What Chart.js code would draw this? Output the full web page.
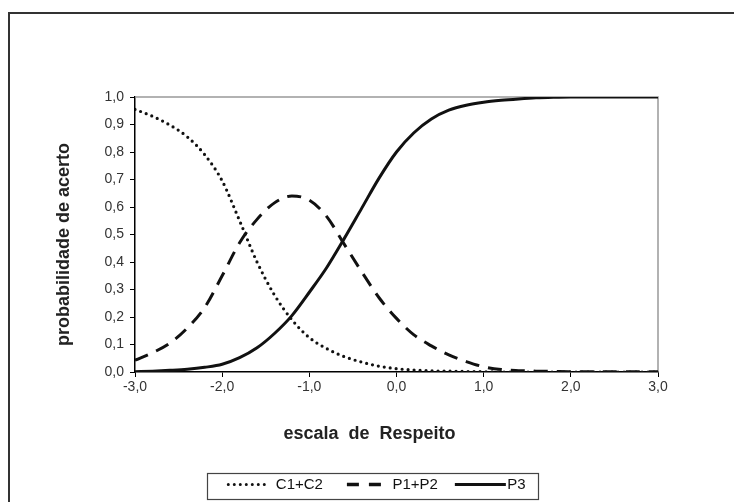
<!DOCTYPE html>
<html>
<head>
<meta charset="utf-8">
<script src="https://cdn.jsdelivr.net/npm/chart.js@4.4.0/dist/chart.umd.min.js"></script>
<style>
html, body { margin: 0; padding: 0; background: #fff; }
</style>
</head>
<body>
<canvas id="myChart" width="734" height="502"></canvas>
<script>
// theta values (escala de Respeito)
var xValues = [-3.0, -2.8, -2.6, -2.4, -2.2, -2.0, -1.8, -1.6, -1.4, -1.2, -1.0, -0.8, -0.6, -0.4, -0.2,
    0.0, 0.2, 0.4, 0.6, 0.8, 1.0, 1.2, 1.4, 1.6, 1.8, 2.0, 2.2, 2.4, 2.6, 2.8, 3.0];

// probabilities
var c1c2 = [0.955, 0.93, 0.898, 0.855, 0.79, 0.695, 0.55, 0.40, 0.28, 0.19, 0.125, 0.085, 0.056, 0.036, 0.021,
    0.012, 0.007, 0.004, 0.003, 0.002, 0.001, 0, 0, 0, 0, 0, 0, 0, 0, 0, 0];
var p1p2 = [0.043, 0.07, 0.105, 0.16, 0.235, 0.35, 0.47, 0.555, 0.615, 0.64, 0.625, 0.565, 0.465, 0.365, 0.27,
    0.195, 0.135, 0.095, 0.062, 0.038, 0.019, 0.009, 0.005, 0.003, 0.002, 0.001, 0.001, 0.001, 0.001, 0.001, 0.001];
var p3 = [0.001, 0.003, 0.006, 0.01, 0.017, 0.028, 0.052, 0.088, 0.14, 0.205, 0.29, 0.38, 0.485, 0.595, 0.705,
    0.80, 0.87, 0.92, 0.952, 0.97, 0.981, 0.988, 0.993, 0.997, 0.999, 1, 1, 1, 1, 1, 1];

var seriesNames = ["C1+C2", "P1+P2", "P3"];
var xTicks = [-3, -2, -1, 0, 1, 2, 3];
var yTicks = [0, 0.1, 0.2, 0.3, 0.4, 0.5, 0.6, 0.7, 0.8, 0.9, 1.0];
var xTitle = "escala  de  Respeito";
var yTitle = "probabilidade de acerto";

function pts(arr) {
    var out = [];
    for (let i = 0; i < xValues.length; i++) {
        out.push({ x: xValues[i], y: arr[i] });
    }
    return out;
}
function comma(v) {
    return Number(v).toFixed(1).replace(".", ",");
}

var FONT = "'Liberation Sans', Arial, sans-serif";
var legendDash = [[0, 6], [12, 10], []];

// outer frame, plot border, axis titles and the legend box
var framePlugin = {
    id: "frame",
    beforeDraw: function(chart) {
        var ctx = chart.ctx;
        ctx.save();
        ctx.fillStyle = "#fff";
        ctx.fillRect(0, 0, chart.width, chart.height);
        ctx.strokeStyle = "#333";
        ctx.lineWidth = 2;
        ctx.beginPath();
        ctx.moveTo(9, chart.height);
        ctx.lineTo(9, 13);
        ctx.lineTo(chart.width, 13);
        ctx.stroke();
        ctx.restore();
    },
    beforeDatasetsDraw: function(chart) {
        var a = chart.chartArea, ctx = chart.ctx;
        ctx.save();
        ctx.strokeStyle = "#999";
        ctx.lineWidth = 1.5;
        ctx.beginPath();
        ctx.moveTo(a.left, a.top);
        ctx.lineTo(a.right, a.top);
        ctx.lineTo(a.right, a.bottom);
        ctx.stroke();
        ctx.restore();
    },
    afterDraw: function(chart) {
        var a = chart.chartArea, ctx = chart.ctx;
        ctx.save();
        ctx.fillStyle = "#222";
        ctx.font = "bold 18px " + FONT;
        ctx.textAlign = "center";
        ctx.textBaseline = "middle";
        ctx.fillText(xTitle, (a.left + a.right) / 2 - 27, a.bottom + 62);
        ctx.translate(64, (a.top + a.bottom) / 2 + 10);
        ctx.rotate(-Math.PI / 2);
        ctx.fillText(yTitle, 0, 0);
        ctx.restore();

        var boxes = chart.legend.legendHitBoxes;
        if (!boxes || !boxes.length) return;
        var l = 1e9, r = -1e9, t = 1e9, b = -1e9;
        ctx.save();
        ctx.strokeStyle = "#111";
        boxes.forEach(function(hb, i) {
            l = Math.min(l, hb.left); r = Math.max(r, hb.left + hb.width);
            t = Math.min(t, hb.top); b = Math.max(b, hb.top + hb.height);
            var y = hb.top + hb.height / 2;
            ctx.beginPath();
            ctx.setLineDash(legendDash[i]);
            if (i === 0) {
                ctx.lineWidth = 3; ctx.lineCap = "round";
                ctx.moveTo(hb.left + 2, y); ctx.lineTo(hb.left + 40, y);
            } else if (i === 1) {
                ctx.lineWidth = 3.5; ctx.lineCap = "butt";
                ctx.moveTo(hb.left + 4, y); ctx.lineTo(hb.left + 38, y);
            } else {
                ctx.lineWidth = 3; ctx.lineCap = "butt";
                ctx.moveTo(hb.left - 3, y); ctx.lineTo(hb.left + 48, y);
            }
            ctx.stroke();
        });
        ctx.setLineDash([]);
        ctx.strokeStyle = "#444";
        ctx.lineWidth = 1.2;
        ctx.strokeRect(Math.round(l - 19) + 0.5, Math.round(t - 4) + 0.5, Math.round(r - l + 32), Math.round(b - t + 11));
        ctx.restore();
    }
};

new Chart("myChart", {
    type: "line",
    data: {
        datasets: [{
            label: seriesNames[0],
            data: pts(c1c2),
            borderColor: "#111",
            borderWidth: 3.2,
            borderDash: [0, 6],
            borderCapStyle: "round",
            pointRadius: 0,
            cubicInterpolationMode: "monotone",
            fill: false
        }, {
            label: seriesNames[1],
            data: pts(p1p2),
            borderColor: "#111",
            borderWidth: 3,
            borderDash: [14, 9],
            pointRadius: 0,
            cubicInterpolationMode: "monotone",
            fill: false
        }, {
            label: seriesNames[2],
            data: pts(p3),
            borderColor: "#111",
            borderWidth: 3,
            pointRadius: 0,
            cubicInterpolationMode: "monotone",
            fill: false
        }]
    },
    options: {
        responsive: false,
        animation: false,
        events: [],
        layout: { padding: { left: 18, right: 0, top: 97, bottom: 0 } },
        plugins: {
            tooltip: { enabled: false },
            legend: {
                display: true,
                position: "bottom",
                labels: {
                    usePointStyle: true,
                    pointStyle: "line",
                    pointStyleWidth: 42,
                    padding: 20,
                    color: "#111",
                    font: { family: FONT, size: 15 },
                    boxHeight: 15,
                    generateLabels: function(chart) {
                        var items = Chart.defaults.plugins.legend.labels.generateLabels(chart);
                        items.forEach(function(it) { it.strokeStyle = "rgba(0,0,0,0)"; });
                        return items;
                    }
                }
            }
        },
        scales: {
            x: {
                type: "linear",
                min: -3, max: 3,
                afterFit: function(s) { s.height = 85; },
                afterBuildTicks: function(s) { s.ticks = xTicks.map(v => ({ value: v })); },
                grid: { drawOnChartArea: false, drawTicks: true, tickLength: 5, color: "#000" },
                border: { color: "#000", width: 1.5 },
                ticks: {
                    autoSkip: false, maxRotation: 0, padding: 2,
                    color: "#333",
                    font: { family: FONT, size: 14 },
                    callback: function(v) { return comma(v); }
                }
            },
            y: {
                min: 0, max: 1,
                afterFit: function(s) { s.width = 117; },
                afterBuildTicks: function(s) { s.ticks = yTicks.map(v => ({ value: v })); },
                grid: { drawOnChartArea: false, drawTicks: true, tickLength: 5, color: "#000" },
                border: { color: "#000", width: 1.5 },
                ticks: {
                    padding: 6,
                    color: "#333",
                    font: { family: FONT, size: 14 },
                    callback: function(v) { return comma(v); }
                }
            },
            yRight: {
                position: "right",
                min: 0, max: 1,
                afterFit: function(s) { s.width = 76; },
                grid: { display: false },
                border: { display: false },
                ticks: { display: false }
            }
        }
    },
    plugins: [framePlugin]
});
</script>
</body>
</html>
